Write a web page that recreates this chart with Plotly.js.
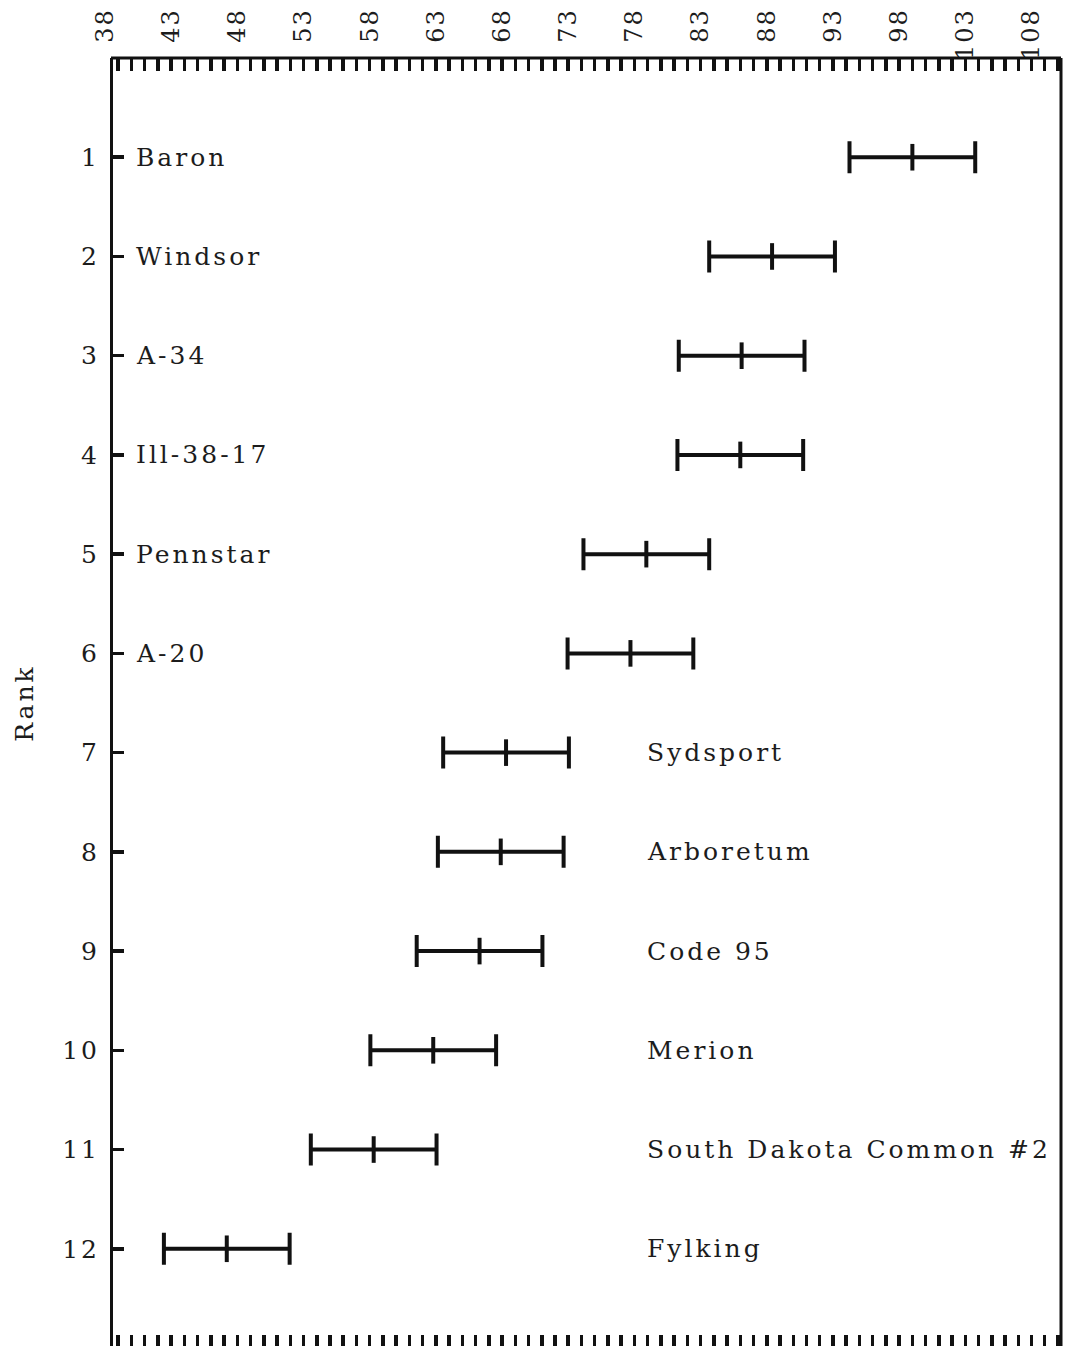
<!DOCTYPE html>
<html>
<head>
<meta charset="utf-8">
<script src="https://cdn.plot.ly/plotly-3.0.1.min.js"></script>
<style>
  html, body { margin: 0; padding: 0; overflow: hidden; background: #ffffff; }
  /* typewriter-like spacing for the labels in the figure */
  #chart text { letter-spacing: 3px; }
  #chart .xtick text { letter-spacing: 2px; }
</style>
</head>
<body>
<div id="chart" style="width:1065px;height:1350px;"></div>
<script>
// Cultivars in rank order, with mean score and the half-width of the interval bar
const ranks = [1, 2, 3, 4, 5, 6, 7, 8, 9, 10, 11, 12];
const cultivars = ['Baron', 'Windsor', 'A-34', 'Ill-38-17', 'Pennstar', 'A-20',
                   'Sydsport', 'Arboretum', 'Code 95', 'Merion',
                   'South Dakota Common #2', 'Fylking'];
const means = [99.0, 88.4, 86.1, 86.0, 78.9, 77.7, 68.3, 67.9, 66.3, 62.8, 58.3, 47.2];
const halfInterval = 4.75;

// Scale labels along the top edge
const scaleLabels = [38, 43, 48, 53, 58, 63, 68, 73, 78, 83, 88, 93, 98, 103, 108];

const FONT = 'DejaVu Serif';
const FSIZE = 25;
const INK = '#111111';
const TEXT = '#1c1c1c';

// plot frame geometry (px)
const W = 1065, H = 1350;
const M = { l: 105, r: 4, t: 58, b: 2 };
const plotW = W - M.l - M.r;
const xRange = [38, 110.23];
const yAxisPx = 111;                     // left frame line
const yAxisPos = (yAxisPx - M.l) / plotW;
const toPaper = p => (p - M.l) / plotW;

// one scale mark per unit inside the frame
const unitTicks = [];
for (let v = Math.ceil(xRange[0] + 0.5); v <= Math.floor(xRange[1]); v++) unitTicks.push(v);

// labels padded with a figure space so all numbers line up at the top
const scaleText = scaleLabels.map(v => (v < 100 ? '\u2007' : '') + v);

const intervals = {
  type: 'scatter',
  mode: 'markers',
  x: means,
  y: ranks,
  xaxis: 'x',
  yaxis: 'y',
  marker: { symbol: 'line-ns-open', size: 19, color: INK, line: { color: INK, width: 4 } },
  error_x: { type: 'constant', value: halfInterval, color: INK, thickness: 4, width: 16 },
  hoverinfo: 'skip',
  showlegend: false
};

// empty trace that carries the unit-mark axis
const markAxis = { type: 'scatter', mode: 'markers', x: [], y: [], xaxis: 'x2', yaxis: 'y',
                   hoverinfo: 'skip', showlegend: false };

const annotations = cultivars.map((name, i) => ({
  text: name,
  xref: 'paper',
  x: i < 6 ? toPaper(134) : toPaper(645),
  xanchor: 'left',
  align: 'left',
  yref: 'y',
  y: ranks[i],
  yanchor: 'middle',
  showarrow: false,
  font: { family: FONT, size: FSIZE, color: TEXT }
}));

const layout = {
  width: W,
  height: H,
  margin: M,
  paper_bgcolor: '#ffffff',
  plot_bgcolor: '#ffffff',
  showlegend: false,
  font: { family: FONT, size: FSIZE, color: TEXT },
  xaxis: {
    range: xRange,
    side: 'top',
    anchor: 'y',
    tickmode: 'array',
    tickvals: scaleLabels,
    ticktext: scaleText,
    tickangle: -90,
    ticks: '',
    ticklabelstandoff: -3,
    tickfont: { family: FONT, size: 24, color: TEXT },
    showline: false,
    showgrid: false,
    zeroline: false,
    fixedrange: true
  },
  xaxis2: {
    range: xRange,
    overlaying: 'x',
    side: 'top',
    anchor: 'y',
    tickmode: 'array',
    tickvals: unitTicks,
    ticks: 'inside',
    ticklen: 13,
    tickwidth: 3.5,
    tickcolor: INK,
    mirror: 'ticks',
    showticklabels: false,
    showline: false,
    showgrid: false,
    zeroline: false,
    fixedrange: true
  },
  yaxis: {
    range: [13, 0],
    anchor: 'free',
    position: yAxisPos,
    tickmode: 'array',
    tickvals: ranks,
    ticks: 'inside',
    ticklen: 11,
    tickwidth: 3.5,
    tickcolor: INK,
    ticklabelstandoff: 5,
    tickfont: { family: FONT, size: FSIZE, color: TEXT },
    showline: true,
    linewidth: 3,
    linecolor: INK,
    showgrid: false,
    zeroline: false,
    fixedrange: true,
    title: { text: 'Rank', standoff: 26, font: { family: FONT, size: FSIZE, color: TEXT } }
  },
  shapes: [
    // top edge of the frame
    { type: 'line', xref: 'paper', yref: 'paper', x0: yAxisPos, x1: 1, y0: 1, y1: 1,
      line: { color: INK, width: 3 } },
    // right edge of the frame
    { type: 'line', xref: 'paper', yref: 'paper', x0: 1, x1: 1, y0: 0, y1: 1,
      line: { color: INK, width: 3 } }
  ],
  annotations: annotations
};

Plotly.newPlot('chart', [intervals, markAxis], layout, { displayModeBar: false, staticPlot: true });
</script>
</body>
</html>
